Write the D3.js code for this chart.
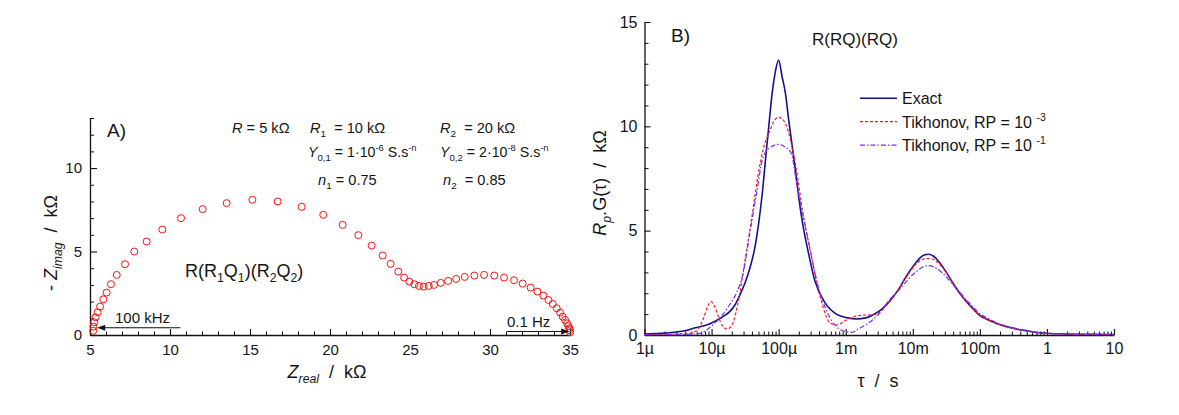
<!DOCTYPE html>
<html><head><meta charset="utf-8">
<script src="https://cdn.jsdelivr.net/npm/d3@7"></script>
<style>
body{margin:0;background:#fff}
svg{display:block}
text{font-family:"Liberation Sans",Arial,sans-serif;fill:#151515;white-space:pre}
</style>
</head><body>
<svg id="c" width="1179" height="415"></svg>
<script>
// ---------- Panel A data (Nyquist) ----------
const nyqReal=[5.20,5.21,5.27,5.35,5.48,5.63,5.83,6.04,6.31,6.67,7.19,7.77,8.54,9.52,10.69,12.04,13.54,15.15,16.73,18.23,19.58,20.79,21.77,22.60,23.29,23.79,24.27,24.63,24.96,25.27,25.56,25.85,26.17,26.50,26.92,27.38,27.88,28.42,29.02,29.63,30.27,30.88,31.50,32.04,32.54,32.96,33.33,33.65,33.92,34.17,34.38,34.54,34.69,34.81,34.90,34.96,35.00,35.01];
const nyqImag=[0.25,0.50,0.76,1.06,1.36,1.70,2.14,2.54,3.04,3.60,4.24,5.00,5.60,6.32,7.00,7.54,7.90,8.10,8.00,7.68,7.20,6.60,5.98,5.36,4.76,4.26,3.80,3.44,3.20,3.04,2.94,2.90,2.94,3.00,3.12,3.24,3.36,3.48,3.56,3.60,3.56,3.44,3.28,3.08,2.84,2.60,2.36,2.10,1.86,1.60,1.34,1.10,0.90,0.70,0.54,0.40,0.28,0.16];
const xTicksA=[5,10,15,20,25,30,35];
const yTicksA=[0,5,10];

// ---------- Panel B data (DRT) ----------
const log10TauExact=[-6.0,-5.7,-5.4,-5.27,-5.1,-5.01,-4.9,-4.83,-4.73,-4.65,-4.58,-4.50,-4.43,-4.36,-4.30,-4.24,-4.19,-4.15,-4.10,-4.05,-4.00,-3.95,-3.90,-3.85,-3.80,-3.75,-3.70,-3.64,-3.56,-3.46,-3.31,-3.14,-2.97,-2.84,-2.70,-2.60,-2.47,-2.35,-2.22,-2.10,-1.98,-1.90,-1.83,-1.76,-1.68,-1.61,-1.50,-1.40,-1.30,-1.20,-1.10,-1.01,-0.88,-0.76,-0.51,-0.30,-0.11,0.30,0.70,1.00];
const gExact=[0.04,0.09,0.20,0.32,0.45,0.56,0.74,0.88,1.12,1.45,1.90,2.50,3.20,4.10,5.30,6.90,8.60,9.90,11.5,12.6,13.18,12.4,11.6,10.3,9.1,7.9,6.6,5.3,4.0,2.6,1.55,1.00,0.82,0.77,0.82,0.96,1.22,1.60,2.15,2.80,3.35,3.67,3.83,3.87,3.75,3.51,3.00,2.48,2.00,1.60,1.25,0.96,0.73,0.56,0.32,0.20,0.11,0.05,0.03,0.02];
const log10TauRP3=[-6.0,-5.6,-5.3,-5.2,-5.12,-5.06,-5.01,-4.96,-4.90,-4.84,-4.77,-4.71,-4.65,-4.58,-4.50,-4.43,-4.37,-4.31,-4.23,-4.13,-4.06,-4.00,-3.93,-3.86,-3.79,-3.71,-3.64,-3.54,-3.44,-3.34,-3.24,-3.14,-2.99,-2.84,-2.69,-2.55,-2.47,-2.35,-2.22,-2.10,-1.98,-1.90,-1.83,-1.76,-1.68,-1.61,-1.50,-1.40,-1.30,-1.20,-1.10,-1.01,-0.88,-0.76,-0.51,-0.30,-0.11,0.30,0.70,1.00];
const gRP3=[0.02,0.04,0.10,0.30,0.80,1.35,1.60,1.40,0.90,0.45,0.29,0.40,0.90,2.00,3.60,5.00,6.30,7.60,8.90,9.80,10.3,10.43,10.3,9.80,8.86,7.43,5.83,4.23,2.64,1.36,0.60,0.48,0.72,0.91,0.96,0.98,1.15,1.60,2.15,2.75,3.30,3.55,3.65,3.67,3.60,3.42,3.00,2.50,2.00,1.60,1.25,0.96,0.73,0.56,0.32,0.20,0.11,0.05,0.03,0.02];
const log10TauRP1=[-6.0,-5.5,-5.17,-5.05,-4.93,-4.83,-4.73,-4.63,-4.53,-4.43,-4.33,-4.23,-4.12,-4.00,-3.90,-3.81,-3.74,-3.64,-3.54,-3.41,-3.29,-3.14,-2.99,-2.90,-2.84,-2.72,-2.60,-2.47,-2.35,-2.22,-2.10,-1.98,-1.88,-1.76,-1.65,-1.55,-1.40,-1.30,-1.20,-1.10,-1.01,-0.88,-0.76,-0.51,-0.30,-0.11,0.30,0.70,1.00];
const gRP1=[0.02,0.02,0.08,0.30,0.64,1.00,1.45,2.00,2.96,4.87,6.79,8.54,9.00,9.14,9.00,8.70,7.43,5.83,4.23,2.32,1.20,0.40,0.16,0.13,0.24,0.45,0.72,1.15,1.68,2.10,2.55,2.95,3.20,3.32,3.20,2.95,2.40,2.05,1.68,1.35,1.05,0.80,0.60,0.35,0.20,0.10,0.04,0.02,0.01];
const tauTicks=[1e-6,1e-5,1e-4,1e-3,1e-2,1e-1,1,10];
const tauTickLabels=["1µ","10µ","100µ","1m","10m","100m","1","10"];
const yTicksB=[0,5,10,15];

const FONT='"Liberation Sans",Arial,sans-serif';
const svg=d3.select("#c");

function rich(sel,x,y,parts,size,opt){
  opt=opt||{};
  const t=sel.append("text").attr("x",x).attr("y",y).attr("font-size",size);
  if(opt.anchor)t.attr("text-anchor",opt.anchor);
  if(opt.transform)t.attr("transform",opt.transform);
  let off=0;
  parts.forEach(p=>{
    const txt=typeof p==="string"?p:p[0];
    const kind=typeof p==="string"?"":p[1];
    let target=0,fs=size;
    if(kind.includes("sub")){target=size*0.3;fs=size*0.68;}
    if(kind.includes("sup")){target=-size*0.42;fs=size*0.66;}
    const ts=t.append("tspan").attr("dy",(target-off).toFixed(2)).attr("font-size",fs).text(txt);
    if(kind==="i"||kind==="isub")ts.attr("font-style","italic");
    off=target;
  });
  return t;
}
function styleAxis(g,fs){
  g.attr("font-size",fs).attr("font-family",FONT).attr("color","#111");
  g.select(".domain").attr("stroke-width",1.3);
  g.selectAll(".tick line").attr("stroke-width",1.1);
}

// ================= Panel A =================
const xA=d3.scaleLinear([5,35],[90,570]);
const yA=d3.scaleLinear([0,13],[335,118]);

const gxA=svg.append("g").attr("transform","translate(0,335)")
  .call(d3.axisBottom(xA).tickValues(xTicksA).tickFormat(d3.format("d")).tickSize(-6).tickSizeOuter(0).tickPadding(9));
styleAxis(gxA,15);
const gxAm=svg.append("g").attr("transform","translate(0,335)")
  .call(d3.axisBottom(xA).tickValues(d3.range(5,36).filter(v=>v%5)).tickFormat("").tickSize(-3.5).tickSizeOuter(0));
gxAm.select(".domain").remove(); gxAm.attr("color","#111");

const gyA=svg.append("g").attr("transform","translate(90,0)")
  .call(d3.axisLeft(yA).tickValues(yTicksA).tickFormat(d3.format("d")).tickSize(-7).tickSizeOuter(0).tickPadding(8));
styleAxis(gyA,15);
const gyAm=svg.append("g").attr("transform","translate(90,0)")
  .call(d3.axisLeft(yA).tickValues(d3.range(0,14).filter(v=>v%5)).tickFormat("").tickSize(-4).tickSizeOuter(0));
gyAm.select(".domain").remove(); gyAm.attr("color","#111");

svg.append("g").selectAll("circle").data(d3.zip(nyqReal,nyqImag)).join("circle")
  .attr("cx",d=>xA(d[0])).attr("cy",d=>yA(d[1])).attr("r",3.5)
  .attr("fill","none").attr("stroke","#ff1010").attr("stroke-width",1);

// arrows
const a1y=327.7, a1x0=xA(10.65), a1tip=xA(5.45);
svg.append("line").attr("x1",a1x0).attr("x2",a1tip+7).attr("y1",a1y).attr("y2",a1y).attr("stroke","#111").attr("stroke-width",1.1);
svg.append("path").attr("d",`M${a1tip},${a1y}L${a1tip+8},${a1y-3}L${a1tip+8},${a1y+3}Z`).attr("fill","#111");
rich(svg,115,323,["100 kHz"],15);

const a2y=331.5, a2x0=xA(31.06), a2tip=xA(34.95);
svg.append("line").attr("x1",a2x0).attr("x2",a2tip-7).attr("y1",a2y).attr("y2",a2y).attr("stroke","#111").attr("stroke-width",1.1);
svg.append("path").attr("d",`M${a2tip},${a2y}L${a2tip-8},${a2y-3}L${a2tip-8},${a2y+3}Z`).attr("fill","#111");
rich(svg,507,327,["0.1 Hz"],15);

rich(svg,107,137,["A)"],19);
const PS=14.6;
rich(svg,232,133,[["R","i"]," = 5 kΩ"],PS);
rich(svg,310,133,[["R","i"],["1","sub"],"  = 10 kΩ"],PS);
rich(svg,440,133,[["R","i"],["2","sub"],"  = 20 kΩ"],PS);
rich(svg,308,157,[["Y","i"],["0,1","sub"]," = 1·10",["-6","sup"]," S.s",["-n","sup"]],14.2);
rich(svg,440,157,[["Y","i"],["0,2","sub"]," = 2·10",["-8","sup"]," S.s",["-n","sup"]],14.2);
rich(svg,318,185,[["n","i"],["1","sub"]," = 0.75"],PS);
rich(svg,443,185,[["n","i"],["2","sub"],"  = 0.85"],PS);
rich(svg,185,277,["R(R",["1","sub"],"Q",["1","sub"],")(R",["2","sub"],"Q",["2","sub"],")"],18);

rich(svg,327,378,[["Z","i"],["real","isub"],"  /  kΩ"],18,{anchor:"middle"});
rich(svg,0,0,["- ",["Z","i"],["imag","isub"],"  /  kΩ"],18,{anchor:"middle",transform:"translate(57,243) rotate(-90)"});

// ================= Panel B =================
const xB=d3.scaleLog([1e-6,10],[644.5,1114]);
const yB=d3.scaleLinear([0,15],[335,22]);

const gxB=svg.append("g").attr("transform","translate(0,335)")
  .call(d3.axisBottom(xB).tickValues(tauTicks).tickFormat((d,i)=>tauTickLabels[i]).tickSize(-6).tickSizeOuter(0).tickPadding(8));
styleAxis(gxB,16);
const minorTau=[];
tauTicks.slice(0,-1).forEach(t=>{for(let k=2;k<10;k++)minorTau.push(t*k);});
const gxBm=svg.append("g").attr("transform","translate(0,335)")
  .call(d3.axisBottom(xB).tickValues(minorTau).tickFormat("").tickSize(-3.5).tickSizeOuter(0));
gxBm.select(".domain").remove(); gxBm.attr("color","#111");

const gyB=svg.append("g").attr("transform","translate(644.5,0)")
  .call(d3.axisLeft(yB).tickValues(yTicksB).tickFormat(d3.format("d")).tickSize(-6).tickSizeOuter(0).tickPadding(7));
styleAxis(gyB,16);
const gyBm=svg.append("g").attr("transform","translate(644.5,0)")
  .call(d3.axisLeft(yB).tickValues(d3.range(0,16).filter(v=>v%5)).tickFormat("").tickSize(-4).tickSizeOuter(0));
gyBm.select(".domain").remove(); gyBm.attr("color","#111");

const line=d3.line().x(d=>xB(Math.pow(10,d[0]))).y(d=>yB(d[1])).curve(d3.curveMonotoneX);
const series=[
  {lt:log10TauExact,g:gExact,color:"#12128c",dash:null,w:1.6,label:[ "Exact"]},
  {lt:log10TauRP3,g:gRP3,color:"#ff1a1a",dash:"3,2",w:1.2,label:["Tikhonov, RP = 10 ",["-3","sup"]]},
  {lt:log10TauRP1,g:gRP1,color:"#7a2cf5",dash:"5,2,1.5,2",w:1.2,label:["Tikhonov, RP = 10 ",["-1","sup"]]}
];
series.forEach(s=>{
  svg.append("path").datum(d3.zip(s.lt,s.g)).attr("d",line)
    .attr("fill","none").attr("stroke",s.color).attr("stroke-width",s.w)
    .attr("stroke-dasharray",s.dash);
});
// legend
series.forEach((s,i)=>{
  const cy=98.3+i*23.4;
  svg.append("line").attr("x1",860).attr("x2",897).attr("y1",cy).attr("y2",cy)
    .attr("stroke",s.color).attr("stroke-width",s.w).attr("stroke-dasharray",s.dash);
  rich(svg,902,cy+6,s.label,16);
});

rich(svg,671,42,["B)"],19);
rich(svg,812,45,["R(RQ)(RQ)"],17);
rich(svg,878,387,["τ  /  s"],18,{anchor:"middle"});
rich(svg,0,0,[["R","i"],["p","isub"],".G(τ)  /  kΩ"],18,{anchor:"middle",transform:"translate(606,183) rotate(-90)"});
</script>
</body></html>
